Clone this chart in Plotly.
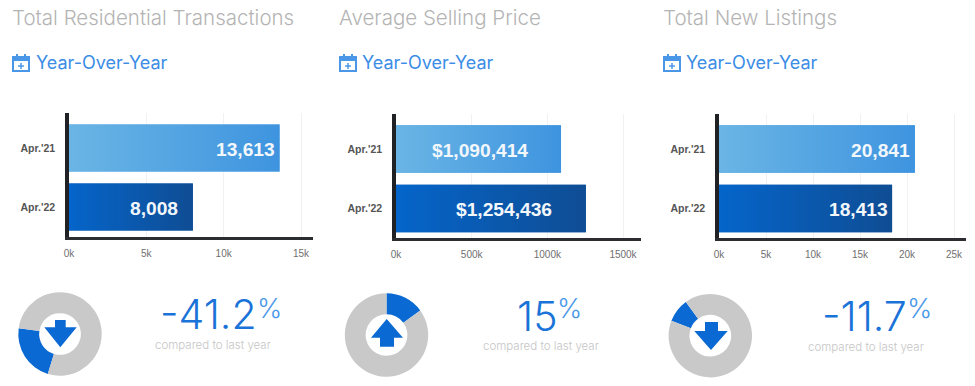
import plotly.graph_objects as go

W, H = 975, 386

# ---- data ----
periods = ["Apr.'21", "Apr.'22"]
titles = ["Total Residential Transactions", "Average Selling Price", "Total New Listings"]
residential = [13613, 8008]
selling_price = [1090414, 1254436]
new_listings = [20841, 18413]
residential_labels = ["13,613", "8,008"]
selling_labels = ["$1,090,414", "$1,254,436"]
listings_labels = ["20,841", "18,413"]
residential_ticks = [0, 5000, 10000, 15000]
selling_ticks = [0, 500000, 1000000, 1500000]
listings_ticks = [0, 5000, 10000, 15000, 20000, 25000]
residential_ticktext = ["0k", "5k", "10k", "15k"]
selling_ticktext = ["0k", "500k", "1000k", "1500k"]
listings_ticktext = ["0k", "5k", "10k", "15k", "20k", "25k"]
change_text = ["-41.2", "15", "-11.7"]
donut_share = [22.5, 15, 9.2]          # blue wedge, as drawn
donut_start = [197, 0, 291]            # degrees clockwise from top

# ---- layout helpers ----
def fx(p): return p / W
def fy(p): return 1 - p / H

panels = [
    dict(vals=residential, labels=residential_labels, ticks=residential_ticks, ticktext=residential_ticktext,
         left=69, unit=232 / 15000, end=313, top=113, base=236.5, c=(148, 207), bw=47,
         label_x=(246, 153.5), title_x=11, cal_x=12, sub_x=35, donut=(60, 334),
         pct_right=258, cmp_x=213, cmp_y=345, pct_y=314, arrow=[(55, 65.7), 320, 327.3, (44.3, 76.7), (60.3, 347.3)]),
    dict(vals=selling_price, labels=selling_labels, ticks=selling_ticks, ticktext=selling_ticktext,
         left=396, unit=227 / 1500000, end=641, top=114, base=238, c=(149, 208.5), bw=47.5,
         label_x=(480, 504), title_x=338, cal_x=339, sub_x=361, donut=(386.5, 335),
         pct_right=558, cmp_x=541, cmp_y=346, pct_y=315.5, arrow=None),
    dict(vals=new_listings, labels=listings_labels, ticks=listings_ticks, ticktext=listings_ticktext,
         left=719, unit=235 / 25000, end=966, top=114, base=238, c=(149, 208.5), bw=47.5,
         label_x=(880, 858), title_x=662, cal_x=663, sub_x=685, donut=(710.3, 335.7),
         pct_right=908, cmp_x=866, cmp_y=346.5, pct_y=315.5, arrow=[(705, 718), 322, 331, (694.3, 727.7), (711, 350)]),
]

LIGHT = [[0, "#6ab5e5"], [1, "#3e94df"]]
DARK = [[0, "#0565ca"], [1, "#0f4d94"]]
BLUE = "#0a69d3"
TEXT_FONT = "Inter"

fig = go.Figure()
ann, shapes = [], []
layout = {}

def text(x, y, s, size, color, anchor="left", family=TEXT_FONT, weight=300):
    ann.append(dict(x=fx(x), y=fy(y), xref="paper", yref="paper", text=s, showarrow=False,
                    xanchor=anchor, yanchor="middle", borderpad=0,
                    font=dict(size=size, color=color, family=family, weight=weight)))

def poly(points, **kw):
    path = "M " + " L ".join(f"{fx(x):.5f},{fy(y):.5f}" for x, y in points) + " Z"
    shapes.append(dict(type="path", xref="paper", yref="paper", path=path, **kw))

for i, p in enumerate(panels):
    n = "" if i == 0 else str(i + 1)
    step = p["c"][1] - p["c"][0]
    xmax = (p["end"] - p["left"]) / p["unit"]
    ymax = (p["base"] - p["c"][0]) / step
    ymin = (p["top"] - p["c"][0]) / step
    half = p["bw"] / step / 2
    fig.add_trace(go.Bar(x=p["vals"], y=[0, 1], orientation="h", width=p["bw"] / step,
                         marker=dict(color=["#52a4e2", "#0a5ab0"], line_width=0),
                         xaxis="x" + n, yaxis="y" + n, hoverinfo="skip", showlegend=False))
    for k, (v, grad) in enumerate(zip(p["vals"], (LIGHT, DARK))):
        fig.add_trace(go.Scatter(x=[0, v, v, 0, 0], y=[k - half, k - half, k + half, k + half, k - half],
                                 mode="none", fill="toself",
                                 fillgradient=dict(type="horizontal", colorscale=grad),
                                 xaxis="x" + n, yaxis="y" + n, hoverinfo="skip", showlegend=False))
        text(p["label_x"][k], p["c"][k] + 1, p["labels"][k], 19.2, "#f2f7fc", "center", "Liberation Sans", 700)
    layout["xaxis" + n] = dict(domain=[fx(p["left"]), fx(p["end"])], range=[0, xmax], anchor="y" + n,
                               automargin=False,
                               tickvals=p["ticks"], ticktext=p["ticktext"], showgrid=True, gridcolor="#f1f1f1",
                               gridwidth=1, zeroline=False, showline=True, linecolor="#2b2d30", linewidth=3,
                               ticks="outside", ticklen=5, tickcolor="rgba(0,0,0,0)",
                               tickfont=dict(size=10, color="#6f6f6f", family="Liberation Sans"))
    layout["yaxis" + n] = dict(domain=[fy(p["base"]), fy(p["top"])], range=[ymax, ymin], anchor="x" + n,
                               automargin=False,
                               tickvals=[0, 1], ticktext=periods, showgrid=False, zeroline=False,
                               showline=True, linecolor="#1f2124", linewidth=3.5,
                               ticks="outside", ticklen=8, tickcolor="rgba(0,0,0,0)",
                               tickfont=dict(size=10.5, color="#555555", family="Liberation Sans", weight=700))

    # headings
    text(p["title_x"], 18, titles[i], 20.5, "#b4b4b4")
    text(p["sub_x"], 62, "Year-Over-Year", 18, "#3b8de6", weight=400)

    # calendar icon
    cx = p["cal_x"]
    shapes.append(dict(type="rect", xref="paper", yref="paper", x0=fx(cx + 1), x1=fx(cx + 17), y0=fy(71), y1=fy(57),
                       line=dict(color="#4a97e8", width=2), fillcolor="rgba(0,0,0,0)"))
    shapes.append(dict(type="rect", xref="paper", yref="paper", x0=fx(cx + 1), x1=fx(cx + 17), y0=fy(61), y1=fy(57),
                       line=dict(width=0), fillcolor="#4a97e8"))
    for dx in (5, 13):
        shapes.append(dict(type="line", xref="paper", yref="paper", x0=fx(cx + dx), x1=fx(cx + dx), y0=fy(57), y1=fy(54),
                           line=dict(color="#4a97e8", width=2)))
    shapes.append(dict(type="line", xref="paper", yref="paper", x0=fx(cx + 6), x1=fx(cx + 12), y0=fy(66), y1=fy(66),
                       line=dict(color="#4a97e8", width=1.5)))
    shapes.append(dict(type="line", xref="paper", yref="paper", x0=fx(cx + 9), x1=fx(cx + 9), y0=fy(63), y1=fy(69),
                       line=dict(color="#4a97e8", width=1.5)))

    # donut
    dx0, dy0 = p["donut"]
    r = 41.7
    fig.add_trace(go.Pie(values=[donut_share[i], 100 - donut_share[i]], sort=False, direction="clockwise",
                         rotation=donut_start[i], hole=0.5, textinfo="none", hoverinfo="skip", showlegend=False,
                         marker=dict(colors=[BLUE, "#c9c9c9"], line_width=0),
                         domain=dict(x=[fx(dx0 - r), fx(dx0 + r)], y=[fy(dy0 + r), fy(dy0 - r)])))

    # arrow
    if i == 1:
        poly([(386.7, 319), (403, 337.7), (394, 337.7), (394, 346.7), (380, 346.7), (380, 337.7), (371, 337.7)],
             fillcolor=BLUE, line_width=0)
    else:
        (sx0, sx1), sy0, sy1, (hx0, hx1), tip = p["arrow"]
        poly([(sx0, sy0), (sx1, sy0), (sx1, sy1), (hx1, sy1), tip, (hx0, sy1), (sx0, sy1)],
             fillcolor=BLUE, line_width=0)

    # change figure
    text(p["pct_right"], p["pct_y"], change_text[i], 41, "#1a73d8", "right")
    text(p["pct_right"] - 2, 308, "%", 27, "#4a97e8")
    text(p["cmp_x"], p["cmp_y"], "compared to last year", 11.5, "#c6c6c6", "center")

fig.update_layout(width=W, height=H, margin=dict(l=0, r=0, t=0, b=0), autosize=False,
                  paper_bgcolor="white", plot_bgcolor="white", showlegend=False, barmode="overlay",
                  annotations=ann, shapes=shapes, **layout)

fig.write_html("out.html", config={"displayModeBar": False},
               post_script="document.body.style.margin='0';document.body.style.overflow='hidden';")
